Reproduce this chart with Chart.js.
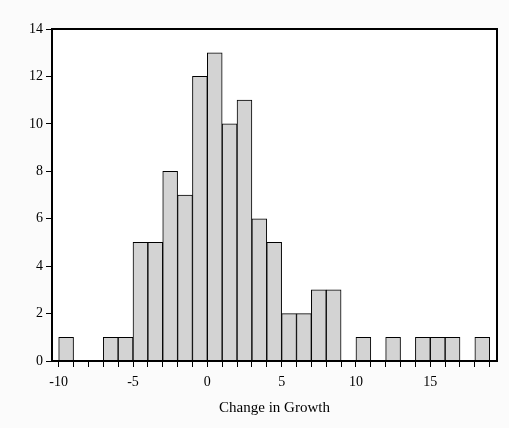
<!DOCTYPE html>
<html lang="en">
<head>
  <meta charset="utf-8">
  <title>Change in Growth</title>
  <script src="https://cdn.jsdelivr.net/npm/chart.js"></script>
  <style>
    html, body { margin: 0; padding: 0; background: #fbfbfb; }
    #wrap { width: 509px; height: 428px; }
  </style>
</head>
<body>
<div id="wrap"><canvas id="histChart" width="509" height="428"></canvas></div>

<script>
  // histogram bins (lower edge, width 1) and counts
  const binStarts = [-10, -9, -8, -7, -6, -5, -4, -3, -2, -1, 0, 1, 2, 3, 4, 5, 6, 7, 8, 9, 10, 11, 12, 13, 14, 15, 16, 17, 18];
  const counts    = [  1,  0,  0,  1,  1,  5,  5,  8,  7, 12, 13, 10, 11,  6,  5,  2,  2,  3,  3,  0,  1,  0,  1,  0,  1,  1,  1,  0,  1];
  const xTickLabels = [-10, -5, 0, 5, 10, 15];
  const yTickLabels = [0, 2, 4, 6, 8, 10, 12, 14];

  const serif = 'Liberation Serif';

  // white plot area on a light grey page, plus a frame round it
  const framePlugin = {
    id: 'frame',
    beforeDraw(chart) {
      const { ctx, chartArea: a } = chart;
      ctx.save();
      ctx.fillStyle = '#fbfbfb';
      ctx.fillRect(0, 0, chart.width, chart.height);
      ctx.fillStyle = '#ffffff';
      ctx.fillRect(a.left, a.top, a.right - a.left, a.bottom - a.top);
      ctx.restore();
    },
    afterDatasetsDraw(chart) {
      const { ctx, chartArea: a } = chart;
      ctx.save();
      ctx.strokeStyle = '#000';
      ctx.lineWidth = 2;
      ctx.strokeRect(a.left, a.top, a.right - a.left, a.bottom - a.top);
      ctx.restore();
    }
  };

  const ctx = document.getElementById('histChart').getContext('2d');
  new Chart(ctx, {
    type: 'bar',
    data: {
      datasets: [{
        data: binStarts.map((b, i) => ({ x: b + 0.5, y: counts[i] })),
        backgroundColor: '#d3d3d3',
        borderColor: '#000',
        borderWidth: c => (c.raw && c.raw.y === 0 ? 0 : 1),
        borderSkipped: 'bottom',
        barPercentage: 1,
        categoryPercentage: 1
      }]
    },
    options: {
      responsive: false,
      animation: false,
      layout: { padding: { left: 0, top: 29, right: 12, bottom: 0 } },
      plugins: { legend: { display: false }, tooltip: { enabled: false } },
      scales: {
        x: {
          type: 'linear',
          offset: false,
          min: -10.45,
          max: 19.49,
          bounds: 'data',
          afterBuildTicks: s => {
            const t = [];
            for (let v = -10; v <= 19; v++) t.push({ value: v });
            s.ticks = t;
          },
          afterFit: s => { s.height = 67; },
          border: { display: false },
          grid: { offset: false, drawOnChartArea: false, drawTicks: true, tickLength: 6, color: '#000', lineWidth: 1 },
          ticks: {
            autoSkip: false,
            maxRotation: 0,
            padding: 7,
            color: '#000',
            font: { family: serif, size: 14 },
            callback: v => (xTickLabels.includes(v) ? String(v) : '')
          },
          title: {
            display: true,
            text: 'Change in Growth',
            color: '#000',
            font: { family: serif, size: 15 },
            padding: { top: 0, bottom: 11 }
          }
        },
        y: {
          min: 0,
          max: 14,
          afterBuildTicks: s => { s.ticks = yTickLabels.map(v => ({ value: v })); },
          afterFit: s => { s.width = 52; },
          border: { display: false },
          grid: { drawOnChartArea: false, drawTicks: true, tickLength: 6, color: '#000', lineWidth: 1 },
          ticks: {
            padding: 3,
            color: '#000',
            font: { family: serif, size: 14 },
            callback: v => String(v)
          }
        }
      }
    },
    plugins: [framePlugin]
  });
</script>
</body>
</html>
